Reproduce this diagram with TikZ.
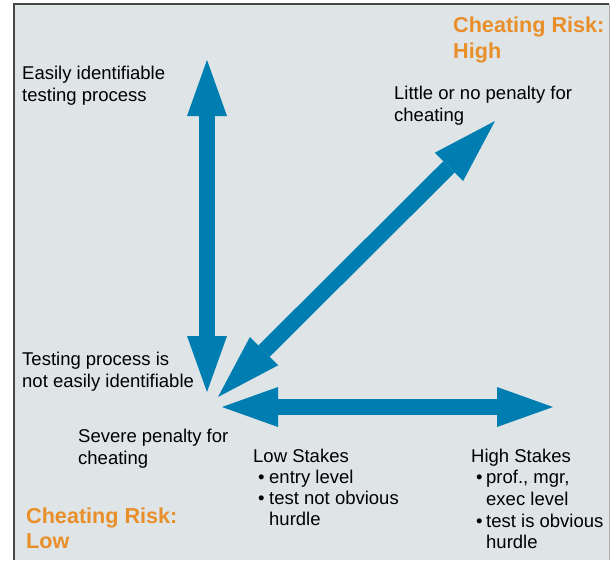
\documentclass[tikz,border=0pt]{standalone}
\usepackage{fontspec}
\setmainfont{Liberation Sans}
\usetikzlibrary{arrows.meta}
\definecolor{panelfill}{RGB}{223,228,231}
\definecolor{arrowblue}{RGB}{0,126,178}
\definecolor{riskorange}{RGB}{233,143,42}
\definecolor{framegray}{RGB}{70,70,70}
\definecolor{edgegray}{RGB}{170,172,175}

\begin{document}
\begin{tikzpicture}[x=1pt,y=-1pt,
  lbl/.style={anchor=base west, inner sep=0pt, font=\fontsize{18.5}{22}\selectfont, text=black},
  risk/.style={anchor=base west, inner sep=0pt, font=\fontsize{21.6}{26}\selectfont\bfseries, text=riskorange},
  bigarrow/.style={draw=arrowblue, line width=16pt, {Triangle[length=56pt,width=40pt,line width=0pt]}-{Triangle[length=56pt,width=40pt,line width=0pt]}},
  slantarrow/.style={draw=arrowblue, line width=16pt, {Triangle[length=65pt,width=40pt,line width=0pt]}-{Triangle[length=65pt,width=40pt,line width=0pt]}}]

% page and panel
\useasboundingbox (0,0) rectangle (613,560);
\fill[white] (0,0) rectangle (613,560);
\fill[panelfill] (14,4) rectangle (609,560);
\draw[edgegray, line width=1pt] (609,4) -- (609,560);
\draw[framegray, line width=2pt] (14,560) -- (14,4) -- (609,4);

% arrow end points
\coordinate (vtop) at (207,60);
\coordinate (vbot) at (207,392);
\coordinate (hleft) at (222,407);
\coordinate (hright) at (553,407);
\coordinate (dlow) at (218,397);
\coordinate (dhigh) at (495,121);

% arrows
\draw[bigarrow] (vtop) -- (vbot);
\draw[bigarrow] (hleft) -- (hright);
\draw[slantarrow] (dlow) -- (dhigh);

% risk labels
\node[risk] (riskhigh1) at (453,32) {Cheating Risk:};
\node[risk] (riskhigh2) at (453,58) {High};
\node[risk] (risklow1) at (26,523) {Cheating Risk:};
\node[risk] (risklow2) at (26,548) {Low};

% axis end labels
\node[lbl] (easy1) at (22,79.5) {Easily identifiable};
\node[lbl] (easy2) at (22,101.5) {testing process};
\node[lbl] (noteasy1) at (22,365) {Testing process is};
\node[lbl] (noteasy2) at (22,387) {not easily identifiable};
\node[lbl] (little1) at (394,99) {Little or no penalty for};
\node[lbl] (little2) at (394,121) {cheating};
\node[lbl] (severe1) at (78,442) {Severe penalty for};
\node[lbl] (severe2) at (78,464) {cheating};

% stakes lists
\node[lbl] (low0) at (253,462) {Low Stakes};
\node[lbl] (lowb1) at (258,483) {•};
\node[lbl] (low1) at (269,483) {entry level};
\node[lbl] (lowb2) at (258,504) {•};
\node[lbl] (low2) at (269,504) {test not obvious};
\node[lbl] (low3) at (269,525) {hurdle};

\node[lbl] (high0) at (471,462) {High Stakes};
\node[lbl] (highb1) at (476,483) {•};
\node[lbl] (high1) at (486,483) {prof., mgr,};
\node[lbl] (high2) at (486,505) {exec level};
\node[lbl] (highb2) at (476,527) {•};
\node[lbl] (high3) at (486,527) {test is obvious};
\node[lbl] (high4) at (486,548) {hurdle};
\end{tikzpicture}
\end{document}
